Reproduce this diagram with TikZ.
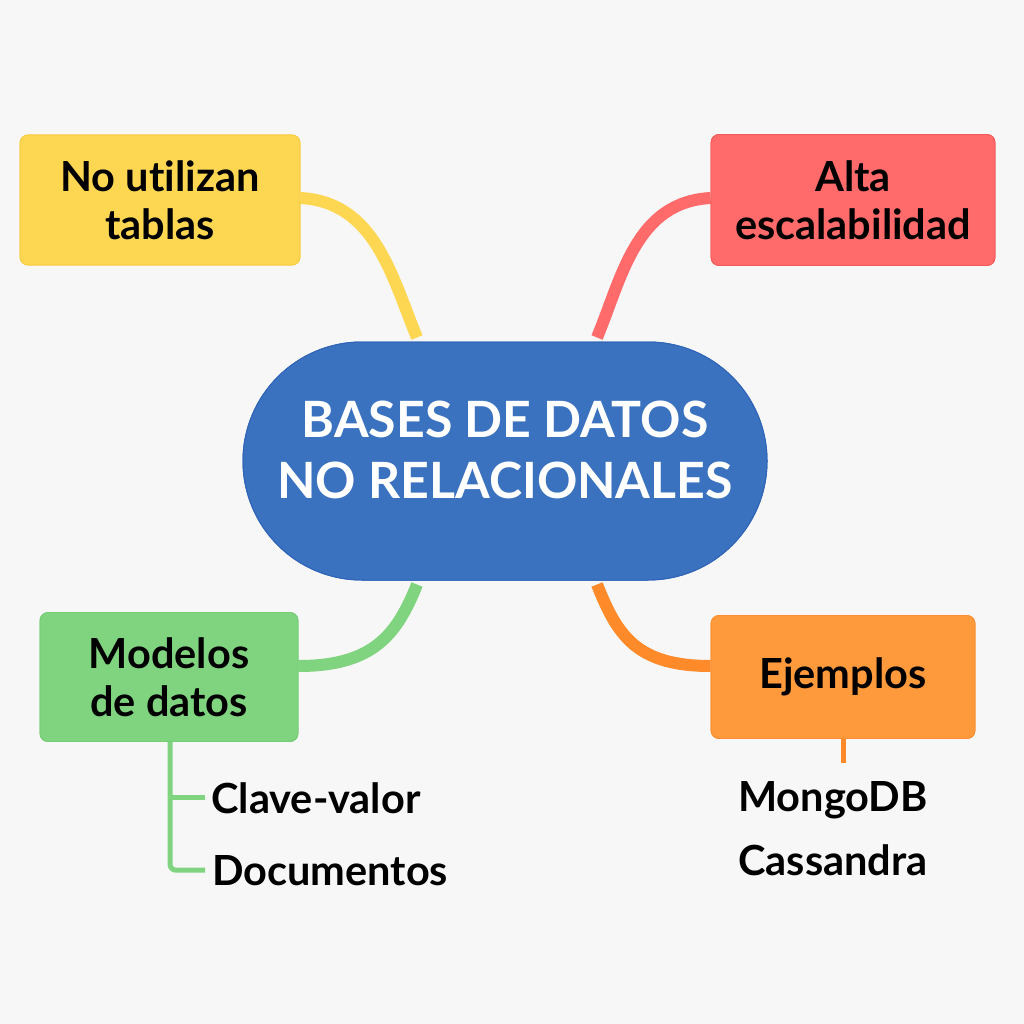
\documentclass[tikz,border=0pt]{standalone}
\usepackage{fontspec}
\setmainfont{Lato}[Ligatures={NoCommon,NoRare}]
\usetikzlibrary{calc}
\definecolor{bg}{HTML}{F7F7F7}
\definecolor{cblue}{HTML}{3A72C0}
\definecolor{cblueb}{HTML}{2F64B8}
\definecolor{cyel}{HTML}{FDD752}
\definecolor{cyelb}{HTML}{F6CB3E}
\definecolor{cred}{HTML}{FF6B6B}
\definecolor{credb}{HTML}{F55A5A}
\definecolor{cgrn}{HTML}{80D47F}
\definecolor{cgrnb}{HTML}{74CC73}
\definecolor{corg}{HTML}{FF9A3C}
\definecolor{corgb}{HTML}{FB8E30}
\definecolor{corgl}{HTML}{FF8A2A}
\tikzset{
  topic/.style={rounded corners=8pt, line width=0.8pt, align=center, text=black,
    font=\bfseries\fontsize{41.5}{48}\selectfont, inner sep=0pt},
  hub/.style={fill=cblue, draw=cblueb, line width=1pt, rounded corners=119pt,
    minimum width=524pt, minimum height=238pt, inner sep=0pt},
  hubtxt/.style={align=center, text=white, inner sep=0pt,
    font=\bfseries\fontsize{50}{61}\selectfont},
  link/.style={line width=12pt, line cap=butt},
  twig/.style={line width=5pt},
  leaf/.style={font=\bfseries\fontsize{41.5}{40}\selectfont, inner sep=0pt, text=black},
}
\begin{document}
\begin{tikzpicture}[x=1pt,y=-1pt]
\fill[bg] (0,0) rectangle (1024,1024);
\useasboundingbox (0,0) rectangle (1024,1024);
% nodes (placed first for names)
\node[hub] (center) at (505,461) {};
\node[topic, fill=cyel, draw=cyelb, minimum width=280pt, minimum height=130pt] (yel) at (160,200) {No utilizan\\tablas};
\node[topic, fill=cred, draw=credb, minimum width=284pt, minimum height=131pt] (red) at (853,200) {Alta\\escalabilidad};
\node[topic, fill=cgrn, draw=cgrnb, minimum width=258pt, minimum height=129pt] (grn) at (169,677) {Modelos\\de datos};
\node[topic, fill=corg, draw=corgb, minimum width=264pt, minimum height=123pt] (org) at (843,677) {Ejemplos};
% connector end points
\coordinate (yA) at ([yshift=2pt]yel.east);
\coordinate (yB) at ([xshift=-88pt,yshift=4pt]center.north);
\coordinate (rA) at ([yshift=2pt]red.west);
\coordinate (rB) at ([xshift=92pt,yshift=4pt]center.north);
\coordinate (gA) at ([yshift=11pt]grn.east);
\coordinate (gB) at ([xshift=-88pt,yshift=-4pt]center.south);
\coordinate (oA) at ([yshift=11pt]org.west);
\coordinate (oB) at ([xshift=92pt,yshift=-4pt]center.south);
\draw[link, cyel] (yA) .. controls ($(yA)+(75,4)$) and ($(yB)+(-25,-60)$) .. (yB);
\draw[link, cred] (rA) .. controls ($(rA)+(-75,4)$) and ($(rB)+(25,-60)$) .. (rB);
\draw[link, cgrn] (gA) .. controls ($(gA)+(75,0)$) and ($(gB)+(-20,50)$) .. (gB);
\draw[link, corgl] (oA) .. controls ($(oA)+(-75,0)$) and ($(oB)+(20,50)$) .. (oB);
% redraw nodes on top of connectors
\node[hub] at (center) {};
\node[hubtxt] (title) at (505,450) {BASES DE DATOS\\NO RELACIONALES};
\node[topic, fill=cyel, draw=cyelb, minimum width=280pt, minimum height=130pt] at (yel) {No utilizan\\tablas};
\node[topic, fill=cred, draw=credb, minimum width=284pt, minimum height=131pt] at (red) {Alta\\escalabilidad};
\node[topic, fill=cgrn, draw=cgrnb, minimum width=258pt, minimum height=129pt] at (grn) {Modelos\\de datos};
\node[topic, fill=corg, draw=corgb, minimum width=264pt, minimum height=123pt] at (org) {Ejemplos};
% leaves
\node[leaf, anchor=base west] (clave) at (211,813) {Clave-valor};
\node[leaf, anchor=base west] (docs) at (212,885) {Documentos};
\node[leaf, anchor=base] (mongo) at (833,811) {MongoDB};
\node[leaf, anchor=base] (cass) at (833,875) {Cassandra};
% green tree
\coordinate (gT) at ([xshift=1pt]grn.south);
\draw[twig, cgrn, rounded corners=6pt] (gT) |- ([xshift=-7pt]docs.west);
\draw[twig, cgrn] (gT |- clave.west) -- ([xshift=-6pt]clave.west);
% orange stub
\draw[twig, corgl] (org.south) -- ++(0,24);
\end{tikzpicture}
\end{document}
